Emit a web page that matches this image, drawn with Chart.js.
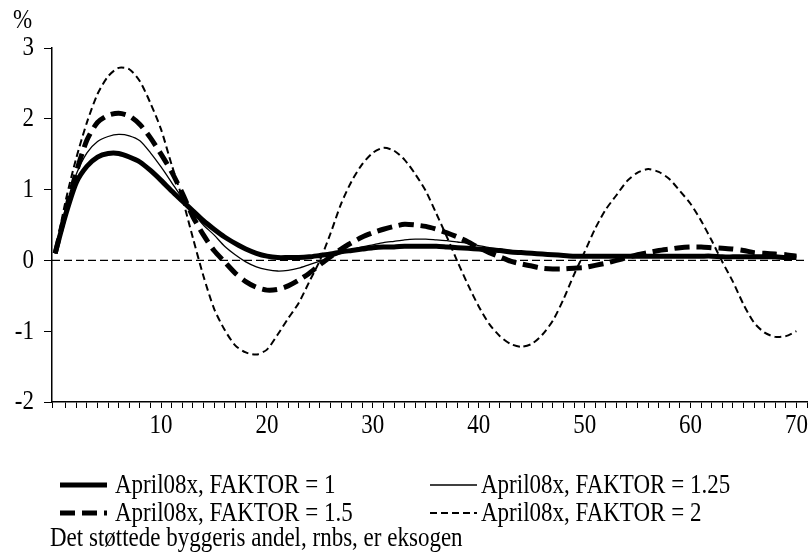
<!DOCTYPE html>
<html><head><meta charset="utf-8">
<script src="https://cdn.jsdelivr.net/npm/chart.js@4.4.1/dist/chart.umd.min.js"></script>
<style>html,body{margin:0;padding:0;background:#fff;} canvas{display:block;}</style>
</head><body>
<canvas id="c" width="808" height="554"></canvas>
<script>
const periods = [0,1,2,3,4,5,6,7,8,9,10,11,12,13,14,15,16,17,18,19,20,21,22,23,24,25,26,27,28,29,30,31,32,33,34,35,36,37,38,39,40,41,42,43,44,45,46,47,48,49,50,51,52,53,54,55,56,57,58,59,60,61,62,63,64,65,66,67,68,69,70];
const faktor1 = [0.10,0.65,1.10,1.33,1.46,1.51,1.51,1.46,1.39,1.27,1.13,0.98,0.84,0.70,0.56,0.44,0.33,0.24,0.16,0.10,0.06,0.04,0.04,0.04,0.05,0.07,0.09,0.12,0.14,0.16,0.18,0.19,0.19,0.20,0.20,0.20,0.20,0.19,0.18,0.17,0.16,0.15,0.14,0.12,0.11,0.10,0.09,0.08,0.07,0.06,0.06,0.06,0.06,0.06,0.06,0.06,0.06,0.06,0.06,0.06,0.06,0.06,0.06,0.05,0.05,0.05,0.05,0.05,0.05,0.04,0.04];
const faktor125 = [0.10,0.75,1.22,1.52,1.68,1.75,1.78,1.76,1.69,1.52,1.32,1.10,0.88,0.68,0.50,0.36,0.20,0.08,-0.02,-0.09,-0.13,-0.15,-0.14,-0.11,-0.06,-0.01,0.04,0.10,0.15,0.19,0.22,0.25,0.27,0.29,0.30,0.30,0.29,0.28,0.26,0.24,0.21,0.18,0.16,0.14,0.12,0.10,0.09,0.08,0.07,0.06,0.05,0.05,0.05,0.05,0.06,0.06,0.07,0.07,0.07,0.07,0.07,0.07,0.06,0.06,0.06,0.05,0.05,0.05,0.05,0.05,0.05];
const faktor15 = [0.10,0.70,1.25,1.70,1.95,2.05,2.08,2.04,1.92,1.73,1.50,1.25,0.95,0.62,0.36,0.14,-0.02,-0.18,-0.30,-0.38,-0.42,-0.41,-0.36,-0.28,-0.18,-0.06,0.05,0.16,0.25,0.33,0.39,0.44,0.48,0.51,0.50,0.48,0.44,0.39,0.33,0.26,0.18,0.11,0.05,-0.01,-0.05,-0.08,-0.11,-0.12,-0.12,-0.11,-0.10,-0.07,-0.04,0.00,0.04,0.08,0.11,0.14,0.16,0.18,0.19,0.19,0.18,0.17,0.16,0.14,0.11,0.10,0.09,0.08,0.06];
const faktor2 = [0.10,0.85,1.45,1.95,2.35,2.60,2.72,2.70,2.53,2.22,1.85,1.35,0.88,0.32,-0.22,-0.68,-0.98,-1.20,-1.30,-1.33,-1.26,-1.05,-0.82,-0.60,-0.30,0.00,0.38,0.80,1.12,1.36,1.52,1.59,1.55,1.42,1.22,0.98,0.66,0.33,-0.02,-0.35,-0.65,-0.90,-1.07,-1.18,-1.22,-1.18,-1.05,-0.85,-0.55,-0.20,0.12,0.45,0.72,0.92,1.12,1.24,1.29,1.25,1.15,0.98,0.80,0.56,0.28,-0.02,-0.30,-0.62,-0.88,-1.02,-1.08,-1.07,-1.00];
const seriesNames = ['April08x, FAKTOR = 1','April08x, FAKTOR = 1.25','April08x, FAKTOR = 1.5','April08x, FAKTOR = 2'];
const xTickLabels = [10,20,30,40,50,60,70];
const yTickLabels = [-2,-1,0,1,2,3];
const unitLabel = '%';
const footnote = 'Det støttede byggeris andel, rnbs, er eksogen';

const FONT = '"Liberation Serif", "Times New Roman", serif';
const STRETCH = 1.22;

function stretchedText(ctx, text, x, y, align) {
  ctx.save();
  ctx.translate(x, y);
  ctx.scale(1, STRETCH);
  ctx.textAlign = align;
  ctx.textBaseline = 'middle';
  ctx.fillText(text, 0, 0);
  ctx.restore();
}

const annot = {
  id: 'annot',
  beforeDatasetsDraw(chart) {
    const {ctx, chartArea: a, scales: {y}} = chart;
    const py = y.getPixelForValue(0);
    ctx.save();
    ctx.strokeStyle = '#000'; ctx.lineWidth = 1.2; ctx.setLineDash([8, 4]);
    ctx.beginPath(); ctx.moveTo(a.left, py); ctx.lineTo(a.right, py); ctx.stroke();
    ctx.restore();
  },
  afterDraw(chart) {
    const {ctx, chartArea: a, scales: {x, y}} = chart;
    ctx.save();
    ctx.fillStyle = '#000';
    ctx.font = '23px ' + FONT;
    yTickLabels.forEach(v => stretchedText(ctx, String(v), a.left - 18, y.getPixelForValue(v), 'right'));
    xTickLabels.forEach(v => stretchedText(ctx, String(v), x.getPixelForValue(v), a.bottom + 24, 'center'));
    stretchedText(ctx, unitLabel, 13, 21, 'left');
    const cols = [{s: 60, t: 115}, {s: 430, t: 481}];
    const rows = [485, 513];
    chart.data.datasets.forEach((d, i) => {
      const c = cols[i % 2], cy = rows[Math.floor(i / 2)];
      ctx.save();
      ctx.strokeStyle = '#000'; ctx.lineWidth = d.borderWidth; ctx.setLineDash(d.borderDash || []);
      ctx.beginPath(); ctx.moveTo(c.s, cy); ctx.lineTo(c.s + 47, cy); ctx.stroke();
      ctx.restore();
      stretchedText(ctx, d.label, c.t, cy + 1, 'left');
    });
    stretchedText(ctx, footnote, 50, 539, 'left');
    ctx.restore();
  }
};

new Chart(document.getElementById('c'), {
  type: 'line',
  data: {
    labels: periods,
    datasets: [
      {label: seriesNames[0], data: faktor1, borderColor: '#000', borderWidth: 5, borderDash: [], pointRadius: 0, tension: 0.25},
      {label: seriesNames[1], data: faktor125, borderColor: '#000', borderWidth: 1.3, borderDash: [], pointRadius: 0, tension: 0.25},
      {label: seriesNames[2], data: faktor15, borderColor: '#000', borderWidth: 5, borderDash: [15, 7], pointRadius: 0, tension: 0.25},
      {label: seriesNames[3], data: faktor2, borderColor: '#000', borderWidth: 2, borderDash: [7, 4], pointRadius: 0, tension: 0.25}
    ]
  },
  options: {
    responsive: false,
    animation: false,
    devicePixelRatio: 1,
    layout: {padding: {top: 48, right: 1, left: 0, bottom: 0}},
    plugins: {legend: {display: false}, tooltip: {enabled: false}, title: {display: false}},
    scales: {
      x: {
        type: 'linear', min: -0.3, max: 71,
        border: {color: '#000', width: 1.5},
        grid: {display: true, drawOnChartArea: false, drawTicks: true, tickLength: 6, color: '#000', lineWidth: 1},
        ticks: {display: false, stepSize: 1, autoSkip: false, maxRotation: 0, minRotation: 0,
          callback: (v) => xTickLabels.includes(v) ? String(v) : ''},
        afterFit(s) { s.height = 152; }
      },
      y: {
        min: -2, max: 3,
        border: {color: '#000', width: 1.5},
        grid: {display: true, drawOnChartArea: false, drawTicks: true, tickLength: 8, color: '#000', lineWidth: 1},
        ticks: {display: false, stepSize: 1,
          callback: (v) => yTickLabels.includes(v) ? String(v) : ''},
        afterFit(s) { s.width = 52; }
      }
    }
  },
  plugins: [annot]
});
</script>
</body></html>
